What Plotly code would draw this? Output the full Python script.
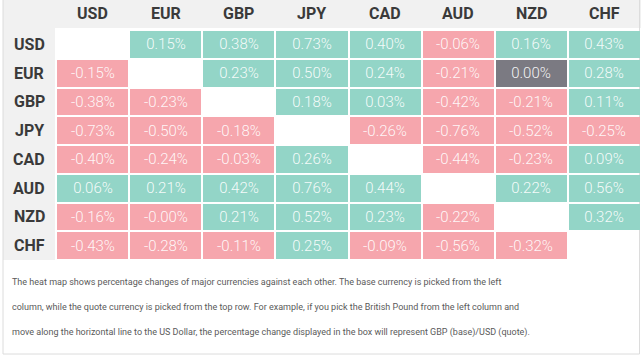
import numpy as np
import plotly.graph_objects as go

currencies = ["USD", "EUR", "GBP", "JPY", "CAD", "AUD", "NZD", "CHF"]

# rows = base currency, columns = quote currency (None on the diagonal)
usd = [None, 0.15, 0.38, 0.73, 0.40, -0.06, 0.16, 0.43]
eur = [-0.15, None, 0.23, 0.50, 0.24, -0.21, 0.00, 0.28]
gbp = [-0.38, -0.23, None, 0.18, 0.03, -0.42, -0.21, 0.11]
jpy = [-0.73, -0.50, -0.18, None, -0.26, -0.76, -0.52, -0.25]
cad = [-0.40, -0.24, -0.03, 0.26, None, -0.44, -0.23, 0.09]
aud = [0.06, 0.21, 0.42, 0.76, 0.44, None, 0.22, 0.56]
nzd = [-0.16, -0.0, 0.21, 0.52, 0.23, -0.22, None, 0.32]
chf = [-0.43, -0.28, -0.11, 0.25, -0.09, -0.56, -0.32, None]

rows = [usd, eur, gbp, jpy, cad, aud, nzd, chf]

caption_lines = [
    "The heat map shows percentage changes of major currencies against each other. The base currency is picked from the left",
    "column, while the quote currency is picked from the top row. For example, if you pick the British Pound from the left column and",
    "move along the horizontal line to the US Dollar, the percentage change displayed in the box will represent GBP (base)/USD (quote).",
]

PINK = "#f6a6ad"
GREEN = "#93d5c7"
GRAY = "#7b7a82"

z = []
text = []
for r in rows:
    zr, tr = [], []
    for v in r:
        if v is None:
            zr.append(None)
            tr.append("")
        else:
            if v > 0:
                code = 1
            elif v < 0 or np.signbit(v):
                code = -1
            else:
                code = 0
            zr.append(code)
            tr.append(f"{v:.2f}%")
    z.append(zr)
    text.append(tr)

fig = go.Figure(
    go.Heatmap(
        z=z,
        x=currencies,
        y=currencies,
        text=text,
        texttemplate="%{text}",
        textfont=dict(family="Roboto", size=15, color="rgba(255,255,255,0.92)", weight=300),
        colorscale=[[0, PINK], [0.33, PINK], [0.33, GRAY], [0.67, GRAY], [0.67, GREEN], [1, GREEN]],
        zmin=-1,
        zmax=1,
        showscale=False,
        xgap=2,
        ygap=2,
        hoverinfo="skip",
    )
)

W, H = 641, 356
L, R, T, B = 56, 0, 30, 96
pw, ph = W - L - R, H - T - B


def px(xp):
    return (xp - L) / pw


def py(yp):
    return 1 - (yp - T) / ph


shapes = [
    # header band
    dict(type="rect", xref="paper", yref="paper", x0=px(3), x1=px(641), y0=py(28), y1=py(-2),
         fillcolor="#f1f1f1", line=dict(width=0), layer="below"),
    # left label column
    dict(type="rect", xref="paper", yref="paper", x0=px(3), x1=px(55), y0=py(260), y1=py(-2),
         fillcolor="#f1f1f1", line=dict(width=0), layer="below"),
    # outer border
    dict(type="rect", xref="paper", yref="paper", x0=px(3), x1=px(639.5), y0=py(354), y1=py(-2),
         fillcolor="rgba(0,0,0,0)", line=dict(width=1, color="#dcdcdc"), layer="below"),
]

annotations = []
for c in currencies:
    annotations.append(dict(
        x=px(29), y=c, xref="paper", yref="y", text=f"<b>{c}</b>", showarrow=False,
        xanchor="center", yanchor="middle",
        font=dict(family="Roboto", size=16, color="#3a3a3a"),
    ))
for c in currencies:
    annotations.append(dict(
        x=c, y=py(14), xref="x", yref="paper", text=f"<b>{c}</b>", showarrow=False,
        xanchor="center", yanchor="middle",
        font=dict(family="Roboto", size=16, color="#3a3a3a"),
    ))
for i, line in enumerate(caption_lines):
    annotations.append(dict(
        x=px(10), y=py(282 + 25 * i), xref="paper", yref="paper", text=line, showarrow=False,
        xanchor="left", yanchor="middle",
        font=dict(family="Roboto", size=9, color="#5a5a5a"),
    ))

fig.update_layout(
    width=W,
    height=H,
    margin=dict(l=L, r=R, t=T, b=B, pad=0),
    paper_bgcolor="white",
    plot_bgcolor="white",
    xaxis=dict(showticklabels=False, showgrid=False, zeroline=False, fixedrange=True),
    yaxis=dict(showticklabels=False, showgrid=False, zeroline=False, autorange="reversed", fixedrange=True),
    shapes=shapes,
    annotations=annotations,
    showlegend=False,
)

fig.write_html(
    "out.html",
    config={"displayModeBar": False},
    post_script="document.body.style.margin='0';document.body.style.overflow='hidden';",
)
